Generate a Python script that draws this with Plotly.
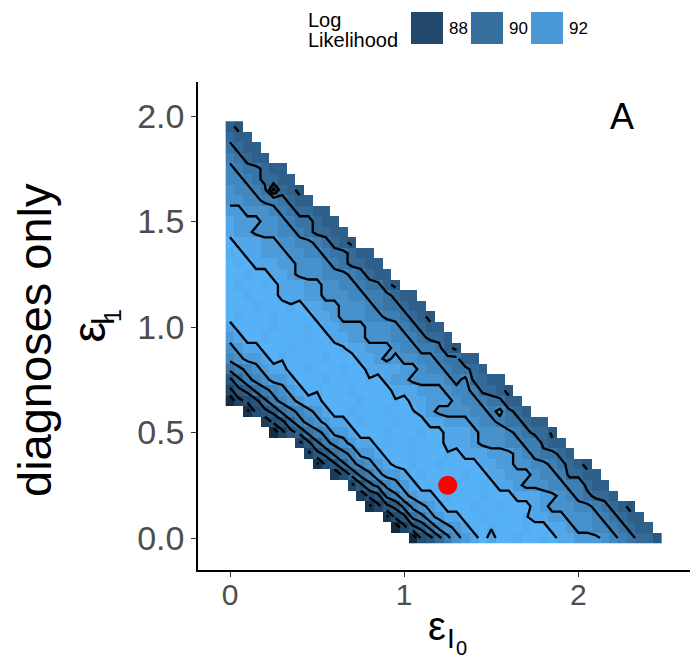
import numpy as np
import plotly.graph_objects as go

# ---------------- data ----------------
EPS_I0 = [round(0.05 * i, 2) for i in range(50)]   # x grid 0.00 .. 2.45
EPS_I1 = [round(0.05 * j, 2) for j in range(40)]   # y grid 0.00 .. 1.95

# log-likelihood code per cell ('.' = not evaluated); one string per row, y = 0.00 upward
CODE_VALUES = {'0': 86.25, '1': 86.75, '2': 87.25, '3': 87.75, '4': 88.25, '5': 88.75,
               '6': 89.25, '7': 89.75, '8': 90.25, '9': 90.75, 'a': 91.25, 'b': 91.75,
               'c': 92.25, 'd': 92.75, 'E': 93.05, 'e': 93.25}
LL_ROWS = [
    "....................." + "04579bcde" + "deeEeeEe" + "ddcccba98775",
    "..................." + "03568abcde" + "eEeeeEee" + "ddcbbaa98766" + ".",
    ".................." + "14589bcdd" + "eeEeeeeE" + "ddccbbba98766" + "..",
    "................" + "13568abcd" + "eeeEeeEee" + "edcbbbaa98765" + "...",
    "..............." + "24589bcdd" + "eEeeeEeee" + "dddccba98776" + ".....",
    ".............." + "3578abcd" + "eeeeEeeEe" + "ddcbbbaa99766" + "......",
    "............" + "24689bccd" + "eEeeeeEee" + "ddcccbaa97766" + ".......",
    ".........." + "14579abcd" + "eeEeeEeeee" + "ddccbbaa98765" + "........",
    "........." + "35689accd" + "eeeEeeeEe" + "dddcccba98876" + "..........",
    "........" + "3579abcdd" + "eEeeEeeed" + "ddcbbbaa99766" + "...........",
    "....." + "035689accd" + "eeeEeeeEee" + "dddcbbba98775" + "............",
    "...." + "24579abcdd" + "eEeeeEeee" + "ddcccbaa988766" + ".............",
    ".." + "145689abcd" + "eeEeeeEeeE" + "dcbbbbaa9a876" + "...............",
    "034579abcdd" + "eeeeEeeeEe" + "ddcccbaa98866" + "................",
    "35689abcd" + "eEeeeEeeee" + "dddcccbaa97765" + ".................",
    "579abccd" + "eeeEeeeeEe" + "dccbbbba9a7766" + "..................",
    "89abcdd" + "eeEeeeEeed" + "dddccbaa98876" + "....................",
    "abccd" + "eEeeeeEeee" + "ddcbcbbaa98866" + ".....................",
    "bcdd" + "eeeEeeeeeE" + "ddcccbaa99865" + ".......................",
    "cd" + "eeEeeeeEeed" + "dccbbbaa98776" + "........................",
    "d" + "eeeeEeeeEe" + "ddcccbbba98766" + ".........................",
    "eEeeeEeeee" + "ddcbbbaa998765" + "..........................",
    "eeeEeeeEe" + "ddccbbba988766" + "...........................",
    "eeEeeed" + "ddccbbbaa998766" + "............................",
    "eEeeEe" + "dddccbbaa98865" + "..............................",
    "eeEee" + "ddcbbbaaa98766" + "...............................",
    "eEe" + "dddccbbba987766" + "................................",
    "Ee" + "ddcccbbaa988766" + ".................................",
    "e" + "dddccbbaa98765" + "...................................",
    "dccbbbaa987766" + "....................................",
    "dcccbba988766" + ".....................................",
    "ccbbba987766" + "......................................",
    "bbaa998766" + "........................................",
    "baa983765" + ".........................................",
    "aa987766" + "..........................................",
    "a988766" + "...........................................",
    "98766" + ".............................................",
    "8766" + "..............................................",
    "766" + "...............................................",
    "65" + "................................................",
]

CONTOUR_LEVELS = [86, 87, 88, 89, 90, 91, 92, 93]
TRUE_VALUE = {"x": [1.25], "y": [0.25]}
LEGEND_BREAKS = [88, 90, 92]
X_TICKS = [0, 1, 2]
Y_TICKS = [0.0, 0.5, 1.0, 1.5, 2.0]
Y_TICK_TEXT = ["0.0", "0.5", "1.0", "1.5", "2.0"]

# ---------------- build ----------------
Z = [[(CODE_VALUES[c] if c != '.' else None) for c in row] for row in LL_ROWS]
vals = [v for row in Z for v in row if v is not None]
ZMIN, ZMAX = min(vals), max(vals)


# ggplot-like gradient (#132B43 -> #56B1F7) interpolated in Lab space
def _hex2rgb(h):
    h = h.lstrip('#')
    return [int(h[i:i + 2], 16) / 255 for i in (0, 2, 4)]


def _lin(c):
    return c / 12.92 if c <= 0.04045 else ((c + 0.055) / 1.055) ** 2.4


def _delin(c):
    c = max(0.0, min(1.0, c))
    return 12.92 * c if c <= 0.0031308 else 1.055 * c ** (1 / 2.4) - 0.055


WHITE = (0.95047, 1.0, 1.08883)


def _f(t):
    return t ** (1 / 3) if t > 216 / 24389 else (24389 / 27 * t + 16) / 116


def _finv(t):
    return t ** 3 if t ** 3 > 216 / 24389 else (116 * t - 16) / (24389 / 27)


def hex2lab(h):
    r, g, b = [_lin(c) for c in _hex2rgb(h)]
    X = 0.4124 * r + 0.3576 * g + 0.1805 * b
    Y = 0.2126 * r + 0.7152 * g + 0.0722 * b
    Zc = 0.0193 * r + 0.1192 * g + 0.9505 * b
    fx, fy, fz = _f(X / WHITE[0]), _f(Y / WHITE[1]), _f(Zc / WHITE[2])
    return (116 * fy - 16, 500 * (fx - fy), 200 * (fy - fz))


def lab2hex(lab):
    L, a, b = lab
    fy = (L + 16) / 116
    fx = fy + a / 500
    fz = fy - b / 200
    X, Y, Zc = _finv(fx) * WHITE[0], _finv(fy) * WHITE[1], _finv(fz) * WHITE[2]
    r = 3.2406 * X - 1.5372 * Y - 0.4986 * Zc
    g = -0.9689 * X + 1.8758 * Y + 0.0415 * Zc
    bb = 0.0557 * X - 0.2040 * Y + 1.0570 * Zc
    return '#%02x%02x%02x' % tuple(int(round(_delin(c) * 255)) for c in (r, g, bb))


LOW, HIGH = hex2lab('#132B43'), hex2lab('#56B1F7')


def grad(f):
    return lab2hex(tuple(LOW[i] + (HIGH[i] - LOW[i]) * f for i in range(3)))


COLORSCALE = [[f, grad(f)] for f in np.linspace(0, 1, 21)]


# iso-lines like ggplot's stat_contour: only squares whose 4 corners exist
def iso_lines(xs, ys, z, level):
    pos, adj = {}, {}

    def node(p, q):
        k = (min(p, q), max(p, q))
        if k not in pos:
            (j1, i1), (j2, i2) = k
            z1, z2 = z[j1][i1], z[j2][i2]
            t = (level - z1) / (z2 - z1)
            pos[k] = (xs[i1] + t * (xs[i2] - xs[i1]), ys[j1] + t * (ys[j2] - ys[j1]))
        return k

    def link(a, b):
        adj.setdefault(a, []).append(b)
        adj.setdefault(b, []).append(a)

    for j in range(len(z) - 1):
        for i in range(len(z[0]) - 1):
            cs = [(j, i), (j, i + 1), (j + 1, i + 1), (j + 1, i)]
            v = [z[a][b] for a, b in cs]
            if any(q is None for q in v):
                continue
            up = [q > level for q in v]
            cross = {e: node(cs[e], cs[(e + 1) % 4]) for e in range(4) if up[e] != up[(e + 1) % 4]}
            if len(cross) == 2:
                a, b = cross.values()
                link(a, b)
            elif len(cross) == 4:
                centre_up = sum(v) / 4 > level
                for k in range(4):
                    if up[k] != centre_up:
                        link(cross[(k - 1) % 4], cross[k])
    seen, paths = set(), []
    starts = [k for k in adj if len(adj[k]) == 1] + list(adj.keys())
    for s in starts:
        if s in seen:
            continue
        path, cur, prev = [s], s, None
        seen.add(s)
        while True:
            nxt = [n for n in adj[cur] if n != prev and n not in seen]
            if not nxt:
                if prev is not None and s in adj[cur] and len(path) > 2:
                    path.append(s)
                break
            prev, cur = cur, nxt[0]
            seen.add(cur)
            path.append(cur)
        paths.append([pos[k] for k in path])
    return paths


line_x, line_y = [], []
for lev in CONTOUR_LEVELS:
    for p in iso_lines(EPS_I0, EPS_I1, Z, lev):
        line_x += [q[0] for q in p] + [None]
        line_y += [q[1] for q in p] + [None]

fig = go.Figure()
fig.add_trace(go.Heatmap(x=EPS_I0, y=EPS_I1, z=Z, colorscale=COLORSCALE, zmin=ZMIN, zmax=ZMAX,
                         showscale=False, hoverinfo='skip'))
fig.add_trace(go.Scatter(x=line_x, y=line_y, mode='lines',
                         line=dict(color='black', width=2.3), hoverinfo='skip'))
fig.add_trace(go.Scatter(x=TRUE_VALUE["x"], y=TRUE_VALUE["y"], mode='markers',
                         marker=dict(color='#FF0000', size=19), hoverinfo='skip'))

PL, PR, PT, PB = 198, 690, 82, 570


def xp(px):
    return (px - PL) / (PR - PL)


def yp(py):
    return (PB - py) / (PB - PT)


ann = []
# x axis title  ε_{I_0}
ann += [dict(text='ε', x=xp(437), y=yp(626), font=dict(size=40)),
        dict(text='I', x=xp(450.8), y=yp(638), font=dict(size=28)),
        dict(text='0', x=xp(461), y=yp(647.5), font=dict(size=20))]
# y axis titles
ann += [dict(text='diagnoses only', x=xp(34), y=yp(340), font=dict(size=47), textangle=-90),
        dict(text='ε', x=xp(88), y=yp(332.5), font=dict(size=46), textangle=-90),
        dict(text='I', x=xp(101.5), y=yp(321.5), font=dict(size=34), textangle=-90),
        dict(text='1', x=xp(113), y=yp(316), font=dict(size=23), textangle=-90)]
# panel tag
ann += [dict(text='A', x=2.25, y=2.0, xref='x', yref='y', font=dict(size=36))]
# legend
ann += [dict(text='Log', x=xp(306), y=yp(20), xanchor='left', font=dict(size=20)),
        dict(text='Likelihood', x=xp(306), y=yp(40), xanchor='left', font=dict(size=20))]
shapes = []
key_left = [411, 471, 531]
for v, kx in zip(LEGEND_BREAKS, key_left):
    col = grad((v - ZMIN) / (ZMAX - ZMIN))
    shapes.append(dict(type='rect', xref='paper', yref='paper', x0=xp(kx), x1=xp(kx + 32),
                       y0=yp(44), y1=yp(12), fillcolor=col, line=dict(width=0)))
    ann.append(dict(text=str(v), x=xp(kx + 36), y=yp(28.5), xanchor='left', font=dict(size=17)))

for a in ann:
    a.setdefault('xref', 'paper')
    a.setdefault('yref', 'paper')
    a.setdefault('xanchor', 'center')
    a.setdefault('yanchor', 'middle')
    a['showarrow'] = False
    a['font'].setdefault('color', 'black')

fig.update_layout(
    width=693, height=660,
    margin=dict(l=PL, r=693 - PR, t=PT, b=660 - PB, pad=0),
    paper_bgcolor='white', plot_bgcolor='white',
    font=dict(family='Liberation Sans, Arial, sans-serif'),
    showlegend=False,
    annotations=ann, shapes=shapes,
    xaxis=dict(range=[(PL - 230) / 174.2, (PR - 230) / 174.2], tickvals=X_TICKS,
               ticktext=[str(t) for t in X_TICKS],
               showgrid=False, zeroline=False, showline=True, linecolor='black', linewidth=1.6,
               ticks='outside', ticklen=5, tickwidth=1.4, tickcolor='#333333',
               ticklabelstandoff=-8,
               tickfont=dict(size=30, color='#4D4D4D')),
    yaxis=dict(range=[(538 - PB) / 211, (538 - PT) / 211], tickvals=Y_TICKS, ticktext=Y_TICK_TEXT,
               showgrid=False, zeroline=False, showline=True, linecolor='black', linewidth=1.6,
               ticks='outside', ticklen=5, tickwidth=1.4, tickcolor='#333333',
               tickfont=dict(size=34, color='#4D4D4D')),
)

fig.write_html("out.html", config={'displayModeBar': False},
               post_script="document.body.style.margin='0px';document.body.style.overflow='hidden';")
